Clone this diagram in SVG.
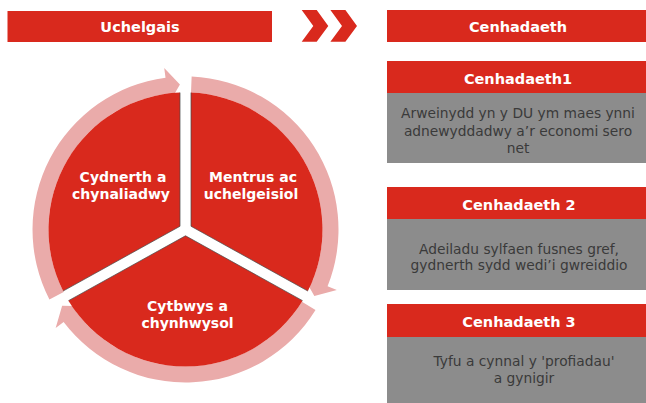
<svg xmlns="http://www.w3.org/2000/svg" width="646" height="403" viewBox="0 0 646 403">
<style>
.red{fill:#D9291D}
.gray{fill:#8C8C8C}
.pink{fill:#EAABAA}
.edge{fill:none;stroke:#4a4a4a;stroke-width:0.9;stroke-opacity:0.8}
.hd{font-family:"DejaVu Sans",sans-serif;font-weight:bold;font-size:14.5px;fill:#FFFFFF;text-anchor:middle}
.sec{font-family:"DejaVu Sans",sans-serif;font-weight:bold;font-size:14px;fill:#FFFFFF;text-anchor:middle}
.body{font-family:"DejaVu Sans",sans-serif;font-size:13.8px;fill:#3A3A3A;text-anchor:middle}
</style>
<rect width="646" height="403" fill="#FFFFFF"/>
<g id="uchelgais-header">
<rect class="red" x="7.5" y="11" width="264.5" height="31"/>
<text class="hd" x="140" y="31.5">Uchelgais</text>
</g>
<g id="chevrons">
<polygon class="red" points="301.7,10 316.7,10 328.3,25.9 316.7,41.7 301.7,41.7 313.3,25.9"/>
<polygon class="red" points="330.4,10 345.4,10 357,25.9 345.4,41.7 330.4,41.7 342,25.9"/>
</g>
<g id="cenhadaeth-header">
<rect class="red" x="387" y="10" width="259" height="32"/>
<text class="hd" x="518" y="31.5">Cenhadaeth</text>
</g>
<g id="connectors">
<path id="arrow-left" class="pink" d="M 49.42 299.43 A 153 153 0 0 1 165.53 77.81 L 164.22 67.90 L 179.93 84.61 L 168.92 103.59 L 167.62 93.67 A 137 137 0 0 0 63.65 292.11 Z"/>
<path id="arrow-right" class="pink" d="M 191.64 76.62 A 153 153 0 0 1 327.56 286.32 L 336.84 290.03 L 314.35 296.00 L 303.42 276.66 L 312.70 280.38 A 137 137 0 0 0 191.00 92.61 Z"/>
<path id="arrow-bottom" class="pink" d="M 315.53 310.12 A 153 153 0 0 1 63.63 322.00 L 55.67 328.05 L 62.13 305.69 L 84.34 306.28 L 76.38 312.33 A 137 137 0 0 0 301.93 301.69 Z"/>
</g>
<g id="sector-mentrus">
<path class="red" d="M 191.0 226.26 L 191.0 92.61 A 137 137 0 0 1 307.90 291.06 Z"/>
<polyline class="edge" points="191.0,92.61 191.0,226.26 307.90,291.06"/>
<text class="sec" x="253" y="181.5">Mentrus ac</text>
<text class="sec" x="251" y="198.5">uchelgeisiol</text>
</g>
<g id="sector-cytbwys">
<path class="red" d="M 185.5 235.79 L 302.56 300.68 A 137 137 0 0 1 68.44 300.68 Z"/>
<polyline class="edge" points="302.56,300.68 185.5,235.79 68.44,300.68"/>
<text class="sec" x="187.5" y="310.5">Cytbwys a</text>
<text class="sec" x="187.5" y="327.5">chynhwysol</text>
</g>
<g id="sector-cydnerth">
<path class="red" d="M 180.0 226.26 L 63.10 291.06 A 137 137 0 0 1 180.0 92.61 Z"/>
<polyline class="edge" points="63.10,291.06 180.0,226.26 180.0,92.61"/>
<text class="sec" x="123" y="181.5">Cydnerth a</text>
<text class="sec" x="121" y="198.5">chynaliadwy</text>
</g>
<g id="cenhadaeth1">
<rect class="red" x="387" y="61" width="259" height="32"/>
<rect class="gray" x="387" y="93" width="259" height="70"/>
<text class="hd" x="518" y="84">Cenhadaeth1</text>
<text class="body" x="518" y="118">Arweinydd yn y DU ym maes ynni</text>
<text class="body" x="518" y="135.5">adnewyddadwy a’r economi sero</text>
<text class="body" x="518" y="152.5">net</text>
</g>
<g id="cenhadaeth2">
<rect class="red" x="387" y="187" width="259" height="32"/>
<rect class="gray" x="387" y="219" width="259" height="71"/>
<text class="hd" x="519" y="210">Cenhadaeth 2</text>
<text class="body" x="519" y="254">Adeiladu sylfaen fusnes gref,</text>
<text class="body" x="519" y="270">gydnerth sydd wedi’i gwreiddio</text>
</g>
<g id="cenhadaeth3">
<rect class="red" x="387" y="304" width="259" height="33"/>
<rect class="gray" x="387" y="337" width="259" height="66"/>
<text class="hd" x="519" y="326.7">Cenhadaeth 3</text>
<text class="body" x="524" y="366">Tyfu a cynnal y 'profiadau'</text>
<text class="body" x="524" y="383">a gynigir</text>
</g>
</svg>
